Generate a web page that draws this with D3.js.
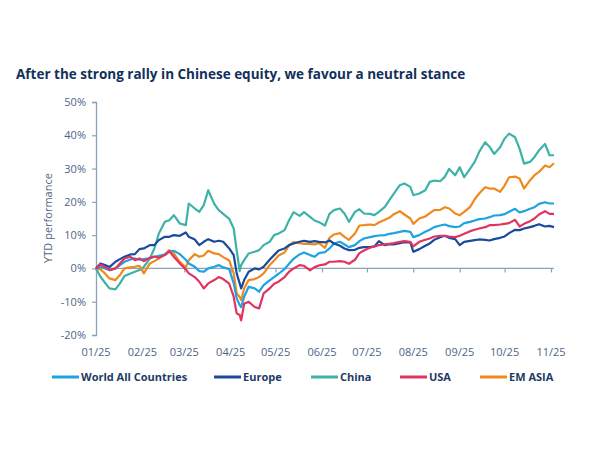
<!DOCTYPE html>
<html><head><meta charset="utf-8">
<script src="https://cdn.jsdelivr.net/npm/d3@7"></script>
<style>
html,body{margin:0;padding:0;background:#fff;}
svg{display:block;font-family:"Open Sans",sans-serif;}
</style></head>
<body><svg id="c" width="592" height="450"></svg>
<script>
const dates = ["01-01","01-04","01-07","01-10","01-14","01-17","01-20","01-24","01-27","01-30",
"02-02","02-06","02-09","02-12","02-16","02-19","02-22","02-26","03-02","03-04",
"03-08","03-11","03-14","03-17","03-21","03-24","03-27","03-31","04-03","04-05",
"04-07","04-08","04-10","04-13","04-17","04-20","04-23","04-27","04-30","05-03",
"05-07","05-10","05-13","05-17","05-20","05-24","05-27","05-30","06-03","06-06",
"06-09","06-13","06-16","06-19","06-23","06-26","06-29","07-03","07-06","07-09",
"07-13","07-16","07-19","07-23","07-26","07-30","08-01","08-05","08-09","08-12",
"08-15","08-19","08-22","08-25","08-29","09-01","09-04","09-08","09-11","09-14",
"09-18","09-21","09-24","09-28","10-01","10-04","10-08","10-11","10-14","10-18",
"10-21","10-24","10-28","10-31","11-03"];

const world = [0,0.5,0,-0.5,0,1.0,2.0,2.7,3.0,2.6,
2.8,3.0,3.5,3.8,4.2,5.0,5.3,4.3,2.6,1.5,
0.5,-0.8,-1.0,0,0.5,1.0,0.3,-0.2,-4.5,-9.0,
-11.0,-11.6,-8.5,-5.5,-6.0,-7.0,-5.0,-3.6,-2.6,-1.6,
-0.2,1.4,2.9,4.2,4.8,4.0,3.5,4.6,4.9,6.0,
7.5,8.0,7.2,6.4,7.0,8.2,9.0,9.4,9.7,9.9,
10.0,10.4,10.6,11.0,11.3,11.0,9.4,10.0,11.0,11.6,
12.4,12.9,13.2,12.7,12.4,12.6,13.6,14.0,14.4,14.8,
15.0,15.4,15.9,16.0,16.3,17.0,17.9,16.8,17.2,17.9,
18.4,19.4,19.9,19.5,19.5];

const europe = [0,1.5,1.0,0.4,2.0,2.8,3.5,4.2,4.3,5.8,
6.0,7.0,7.0,8.5,9.5,9.5,10.0,9.8,10.8,9.5,
8.7,7.0,8.0,8.8,8.0,8.3,8.0,6.0,4.0,-1.5,
-4.5,-6.0,-3.5,-1.0,0,-0.3,0.5,2.6,4.0,5.4,
6.0,7.0,7.5,8.0,8.3,8.0,8.2,8.0,7.8,8.4,
7.5,6.8,6.0,5.5,5.6,6.2,6.4,6.4,6.6,8.2,
7.0,7.3,7.2,7.6,7.9,7.8,5.0,5.8,6.8,7.5,
8.6,9.4,9.8,9.2,8.8,7.0,8.0,8.3,8.5,8.7,
8.6,8.4,8.8,9.2,9.6,10.6,11.6,11.5,12.0,12.4,
12.8,13.3,12.6,12.8,12.4];

const china = [0,-2.5,-4.3,-6.0,-6.3,-4.5,-2.3,-1.5,-1.0,-0.5,
0.5,3.0,6.0,10.5,14.0,14.5,16.0,13.5,13.0,19.5,
18.0,17.0,19.0,23.5,19.4,17.5,16.4,14.9,12.0,5.4,
-0.8,1.0,2.5,4.5,5.0,5.5,7.0,8.0,10.0,10.5,
11.5,14.5,16.9,15.8,16.9,15.5,14.4,13.9,12.9,16.4,
17.5,18.0,16.5,14.0,17.0,17.8,16.5,16.4,16.0,17.0,
18.5,20.5,22.5,25.0,25.5,24.5,22.0,22.5,23.5,26.0,
26.4,26.2,27.5,29.9,28.0,30.4,27.4,30.0,32.0,35.0,
37.9,36.5,34.4,36.4,39.0,40.5,39.4,36.0,31.5,32.0,
33.5,35.5,37.4,34.0,34.0];

const usa = [0,1.2,0.5,-0.5,0,1.5,3.0,3.5,2.5,3.0,
2.2,3.2,3.6,3.2,4.0,5.2,3.5,1.5,-0.3,-1.5,
-2.6,-4.0,-6.0,-4.5,-3.5,-2.6,-3.2,-4.6,-8.5,-13.5,
-14.0,-15.6,-10.6,-10.0,-11.6,-12.0,-7.5,-6.0,-4.6,-4.0,
-2.6,-1.0,0.0,1.0,0.8,-0.6,0.4,0.9,1.2,2.0,
2.0,2.2,2.0,1.4,2.6,4.6,5.4,6.2,6.6,7.0,
7.2,7.4,7.6,8.0,8.2,8.0,6.6,8.0,8.6,9.0,
9.6,9.8,9.8,9.6,9.4,9.8,10.4,11.2,11.6,12.0,
12.4,13.0,13.0,13.2,13.4,13.6,14.6,12.6,13.4,14.2,
15.0,16.2,17.2,16.4,16.4];

const emAsia = [0,-0.3,-1.5,-3.0,-3.5,-2.0,0,0.3,0.5,0.8,
-1.5,1.5,2.2,3.0,4.2,5.5,4.5,2.0,0.3,2.5,
4.3,3.5,3.9,5.3,4.5,4.3,3.4,2.4,-1.5,-7.5,
-8.6,-9.5,-6.0,-3.5,-3.2,-2.6,-1.5,1.0,2.4,3.9,
4.8,6.9,7.9,7.6,7.4,7.4,7.2,7.6,6.2,9.2,
10.2,10.6,9.5,8.6,10.5,12.9,13.0,13.2,13.0,13.8,
14.6,15.2,16.3,17.2,16.2,15.0,13.4,15.0,15.6,16.6,
17.5,17.6,18.4,18.0,16.5,16.0,17.0,18.5,20.8,22.5,
24.4,24.0,24.0,23.0,24.9,27.4,27.6,27.0,24.0,26.5,
28.0,29.0,30.9,30.4,31.6];

const seriesNames = ["World All Countries","Europe","China","USA","EM ASIA"];
const seriesColors = ["#1ea3e2","#1a4a9b","#3db3a8","#e0345f","#f0891c"];
const seriesValues = [world, europe, china, usa, emAsia];
const drawOrder = [2,4,0,1,3];
const yTicks = [-20,-10,0,10,20,30,40,50];
const xTickLabels = ["01/25","02/25","03/25","04/25","05/25","06/25","07/25","08/25","09/25","10/25","11/25"];
const title = "After the strong rally in Chinese equity, we favour a neutral stance";
const yTitle = "YTD performance";

const parse = d3.utcParse("%Y-%m-%d");
const dateObjs = dates.map(d => parse("2025-" + d));
const tickDates = d3.range(0, 11).map(m => new Date(Date.UTC(2025, m, 1)));

const svg = d3.select("#c");
const axisColor = "#8ea2b6";
const labelColor = "#4d6585";

const x = d3.scaleUtc().domain([new Date(Date.UTC(2025,0,1)), new Date(Date.UTC(2025,10,1))]).range([96, 551]);
const y = d3.scaleLinear().domain([-20, 50]).range([335, 102]);
const xEnd = x(dateObjs[dateObjs.length-1]);

svg.append("text").attr("x", 16).attr("y", 79)
  .attr("fill", "#12305a").attr("font-weight", 700).attr("font-size", 13.5)
  .text(title);

// Y axis
const yAxis = svg.append("g").attr("transform", "translate(96,0)")
  .call(d3.axisLeft(y).tickValues(yTicks).tickSize(4).tickPadding(6).tickFormat(d => d + "%"));
yAxis.select(".domain").attr("stroke", axisColor).attr("stroke-width", 1.3);
yAxis.selectAll(".tick line").attr("stroke", axisColor).attr("stroke-width", 1.2);
yAxis.selectAll(".tick text").attr("fill", labelColor).attr("font-size", 11).attr("font-family", "Open Sans");

svg.append("text").attr("transform", "translate(52,218) rotate(-90)")
  .attr("text-anchor", "middle").attr("fill", labelColor).attr("font-size", 11)
  .text(yTitle);

// zero line with month ticks
const zeroG = svg.append("g").attr("transform", `translate(0,${y(0)})`);
zeroG.call(d3.axisBottom(x).tickValues(tickDates).tickSize(4).tickFormat(""));
zeroG.select(".domain").attr("stroke", axisColor).attr("stroke-width", 1.3)
  .attr("d", `M96,0H${xEnd}`);
zeroG.selectAll(".tick line").attr("stroke", axisColor).attr("stroke-width", 1.2);

// x labels at bottom
svg.append("g").selectAll("text").data(tickDates).join("text")
  .attr("x", d => x(d)).attr("y", 356).attr("text-anchor", "middle")
  .attr("fill", labelColor).attr("font-size", 11)
  .text((d, i) => xTickLabels[i]);

// lines
const line = d3.line().x((d, i) => x(dateObjs[i])).y(d => y(d)).curve(d3.curveLinear);
drawOrder.forEach(k => {
  svg.append("path").datum(seriesValues[k])
    .attr("fill", "none").attr("stroke", seriesColors[k]).attr("stroke-width", 2.2)
    .attr("stroke-linejoin", "round").attr("d", line);
});

// legend
const legendX = [52, 214, 311, 400, 480];
const lg = svg.append("g");
seriesNames.forEach((n, i) => {
  lg.append("line").attr("x1", legendX[i]).attr("x2", legendX[i] + 27)
    .attr("y1", 377).attr("y2", 377).attr("stroke", seriesColors[i]).attr("stroke-width", 3);
  lg.append("text").attr("x", legendX[i] + 29).attr("y", 381)
    .attr("fill", "#1d3a66").attr("font-weight", 700).attr("font-size", 11).text(n);
});
</script></body></html>
